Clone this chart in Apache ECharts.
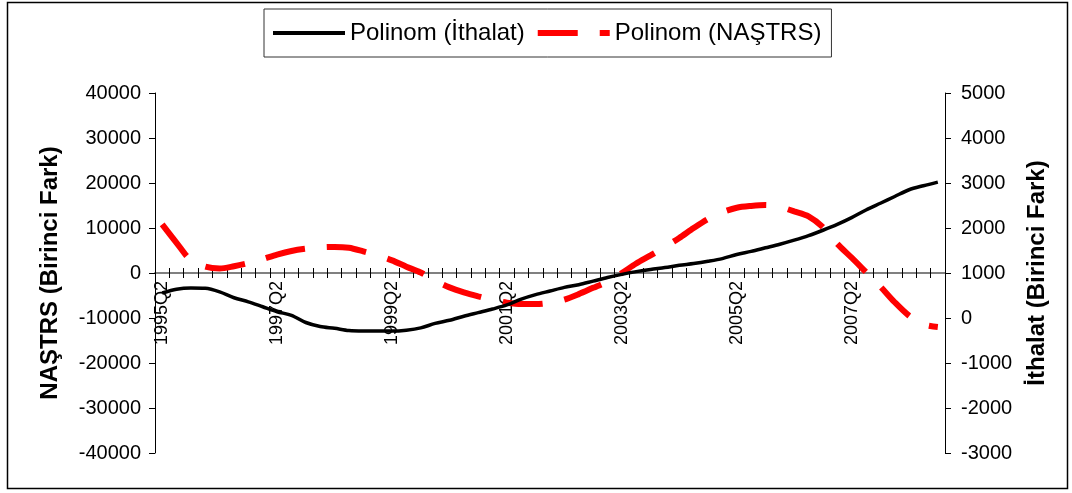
<!DOCTYPE html>
<html>
<head>
<meta charset="utf-8">
<script src="https://cdn.jsdelivr.net/npm/echarts@6/dist/echarts.min.js"></script>
<style>
  html, body { margin: 0; padding: 0; background: #fff; }
  #chart { width: 1072px; height: 493px; }
</style>
</head>
<body>
<div id="chart"></div>
<script>
// Quarterly periods, 1995Q2 – 2008Q4
const quarters = [
  '1995Q2','1995Q3','1995Q4',
  '1996Q1','1996Q2','1996Q3','1996Q4',
  '1997Q1','1997Q2','1997Q3','1997Q4',
  '1998Q1','1998Q2','1998Q3','1998Q4',
  '1999Q1','1999Q2','1999Q3','1999Q4',
  '2000Q1','2000Q2','2000Q3','2000Q4',
  '2001Q1','2001Q2','2001Q3','2001Q4',
  '2002Q1','2002Q2','2002Q3','2002Q4',
  '2003Q1','2003Q2','2003Q3','2003Q4',
  '2004Q1','2004Q2','2004Q3','2004Q4',
  '2005Q1','2005Q2','2005Q3','2005Q4',
  '2006Q1','2006Q2','2006Q3','2006Q4',
  '2007Q1','2007Q2','2007Q3','2007Q4',
  '2008Q1','2008Q2','2008Q3','2008Q4'
];

// Polynomial trend of imports (first difference), right axis
const ithalatPoly = [
  556, 640, 667, 660, 580, 450, 360, 250, 140, 60,
  -100, -190, -230, -280, -290, -290, -290, -270, -220, -120,
  -50, 40, 120, 200, 290, 420, 520, 600, 680, 740,
  820, 900, 970, 1030, 1080, 1120, 1170, 1210, 1260, 1320,
  1410, 1480, 1560, 1640, 1730, 1830, 1950, 2080, 2230, 2400,
  2550, 2700, 2850, 2940, 3020
];

// Polynomial trend of NAŞTRS (first difference), left axis
const nastrsPoly = [
  10800, 6700, 2800, 1400, 1000, 1500, 2200, 3100, 4100, 4900,
  5400, 5700, 5800, 5600, 4800, 3900, 2800, 1400, 100, -1700,
  -3200, -4300, -5200, -6000, -6600, -6900, -6900, -6600, -5900, -4700,
  -3300, -1900, 0, 2100, 3900, 5800, 7800, 10000, 12000, 13500,
  14500, 14900, 15100, 14700, 13700, 12600, 10200, 6500, 3400, 200,
  -3000, -6500, -9500, -11400, -12000
];

const FONT = '"Liberation Sans", Arial, sans-serif';
const NAME_ITHALAT = 'Polinom (İthalat)';
const NAME_NASTRS = 'Polinom (NAŞTRS)';

// Plot area in pixels; the category axis sits on the left axis' zero line
const GRID = { left: 155, right: 127, top: 93, bottom: 40 };
const PLOT_H = 493 - GRID.top - GRID.bottom;
const ZERO_SHIFT = PLOT_H / 2;

const plainNumber = v => String(v);

const chart = echarts.init(document.getElementById('chart'), null, { renderer: 'canvas' });

chart.setOption({
  animation: false,
  backgroundColor: '#fff',
  textStyle: { fontFamily: FONT },
  graphic: [{
    type: 'rect',
    silent: true,
    z: -10,
    shape: { x: 7.5, y: 2.5, width: 1060, height: 486 },
    style: { fill: 'none', stroke: '#000', lineWidth: 1.5 }
  }],
  legend: {
    left: 264,
    top: 9,
    padding: [10, 10, 10, 7],
    itemGap: 10,
    itemWidth: 72,
    itemHeight: 14,
    borderColor: '#333',
    borderWidth: 1,
    itemStyle: { opacity: 0 },
    textStyle: { fontSize: 24, color: '#000', fontFamily: FONT, lineHeight: 28 },
    data: [
      { name: NAME_ITHALAT, lineStyle: { width: 4 } },
      { name: NAME_NASTRS, lineStyle: { width: 6 } }
    ]
  },
  grid: Object.assign({ outerBoundsMode: 'none', containLabel: false }, GRID),
  xAxis: [{
    type: 'category',
    data: quarters,
    position: 'bottom',
    offset: -ZERO_SHIFT,
    boundaryGap: true,
    axisLine: { onZero: false, lineStyle: { color: '#808080', width: 2 } },
    axisTick: { show: true, interval: 0, length: 5, lineStyle: { color: '#000', width: 1 } },
    axisLabel: { interval: 7, rotate: 90, margin: 8, fontSize: 18, color: '#000', fontFamily: FONT, hideOverlap: false },
    splitLine: { show: false }
  }, {
    type: 'category',
    data: quarters,
    position: 'top',
    offset: -ZERO_SHIFT,
    boundaryGap: true,
    axisLine: { show: false, onZero: false },
    axisTick: { show: true, interval: 0, length: 5, lineStyle: { color: '#000', width: 1 } },
    axisLabel: { show: false },
    splitLine: { show: false }
  }],
  yAxis: [{
    type: 'value',
    position: 'left',
    min: -40000,
    max: 40000,
    interval: 10000,
    name: 'NAŞTRS (Birinci Fark)',
    nameLocation: 'middle',
    nameGap: 93,
    nameTextStyle: { fontSize: 24, fontWeight: 'bold', color: '#000', fontFamily: FONT },
    axisLine: { show: true, onZero: false, lineStyle: { color: '#000', width: 1 } },
    axisTick: { show: true, length: 6, lineStyle: { color: '#000' } },
    axisLabel: { fontSize: 20, color: '#000', margin: 14, fontFamily: FONT, formatter: plainNumber },
    splitLine: { show: false }
  }, {
    type: 'value',
    position: 'right',
    min: -3000,
    max: 5000,
    interval: 1000,
    name: 'İthalat (Birinci Fark)',
    nameLocation: 'middle',
    nameGap: 80,
    nameTextStyle: { fontSize: 24, fontWeight: 'bold', color: '#000', fontFamily: FONT },
    axisLine: { show: true, onZero: false, lineStyle: { color: '#000', width: 1 } },
    axisTick: { show: true, length: 6, lineStyle: { color: '#000' } },
    axisLabel: { fontSize: 20, color: '#000', margin: 16, fontFamily: FONT, formatter: plainNumber },
    splitLine: { show: false }
  }],
  series: [{
    name: NAME_NASTRS,
    type: 'line',
    xAxisIndex: 0,
    yAxisIndex: 0,
    data: nastrsPoly,
    symbol: 'none',
    smooth: 0.3,
    lineStyle: { color: '#ff0000', width: 6, type: [40, 22], cap: 'butt' },
    itemStyle: { color: '#ff0000' },
    z: 2
  }, {
    name: NAME_ITHALAT,
    type: 'line',
    xAxisIndex: 0,
    yAxisIndex: 1,
    data: ithalatPoly,
    symbol: 'none',
    smooth: 0.3,
    lineStyle: { color: '#000', width: 3.5 },
    itemStyle: { color: '#000' },
    z: 3
  }]
});
</script>
</body>
</html>
